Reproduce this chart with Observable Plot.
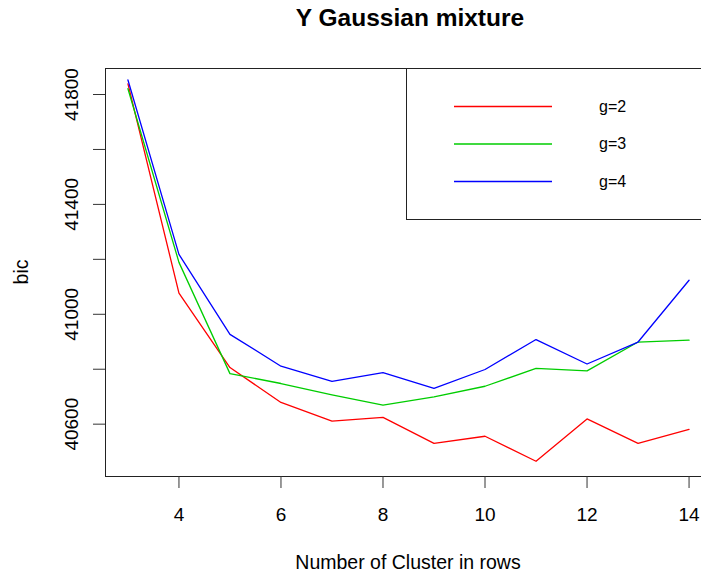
<!DOCTYPE html>
<html>
<head>
<meta charset="utf-8">
<script src="https://cdn.jsdelivr.net/npm/d3@7"></script>
<script src="https://cdn.jsdelivr.net/npm/@observablehq/plot@0.6"></script>
<style>
  html, body { margin: 0; padding: 0; background: white; overflow: hidden; }
  #wrap { position: relative; width: 701px; height: 574px; font-family: "Liberation Sans", Arial, Helvetica, sans-serif; color: #000; }
  #wrap > svg { position: absolute; left: 0; top: 0; }
  .lbl { position: absolute; white-space: nowrap; transform: translate(-50%, -50%); }
  #title { left: 410px; top: 18px; font-size: 24.5px; font-weight: bold; }
  #xlab { left: 408px; top: 562px; font-size: 19.5px; }
  #ylab { left: 21px; top: 272px; font-size: 19.5px; transform: translate(-50%, -50%) rotate(-90deg); }
  #legend { position: absolute; left: 406px; top: 68px; width: 330px; height: 152px; border: 1px solid #222; background: white; box-sizing: border-box; }
  #legend svg { position: absolute; left: 0; top: 0; }
  .ltxt { position: absolute; left: 192px; transform: translateY(-50%); font-size: 16px; white-space: nowrap; }
</style>
</head>
<body>
<div id="wrap">
  <div id="title" class="lbl">Y Gaussian mixture</div>
  <div id="xlab" class="lbl">Number of Cluster in rows</div>
  <div id="ylab" class="lbl">bic</div>
</div>
<script>
// Data
const clusters = [3, 4, 5, 6, 7, 8, 9, 10, 11, 12, 13, 14];
const g2 = [41839, 41077, 40806, 40679, 40611, 40625, 40530, 40556, 40465, 40619, 40530, 40581];
const g3 = [41821, 41189, 40784, 40748, 40707, 40669, 40699, 40738, 40803, 40794, 40899, 40906];
const g4 = [41853, 41218, 40927, 40811, 40756, 40788, 40730, 40799, 40908, 40819, 40899, 41124];
const seriesNames = ["g=2", "g=3", "g=4"];
const seriesColors = ["#ff0000", "#00cd00", "#0000ff"];
const xTicks = [4, 6, 8, 10, 12, 14];
const yTicks = [40600, 40800, 41000, 41200, 41400, 41600, 41800];
const yLabels = [40600, 41000, 41400, 41800];

const seriesValues = [g2, g3, g4];
const rows = [];
seriesValues.forEach((vals, i) => {
  vals.forEach((v, j) => rows.push({x: clusters[j], y: v, g: seriesNames[i]}));
});

const chart = Plot.plot({
  width: 701,
  height: 574,
  marginLeft: 105,
  marginRight: -10,
  marginTop: 68,
  marginBottom: 98,
  style: {fontFamily: "'Liberation Sans', Arial, Helvetica, sans-serif", fontSize: "19px", color: "#000", background: "transparent"},
  x: {domain: [2.56, 14.44]},
  y: {domain: [40409.5, 41894.7]},
  color: {domain: seriesNames, range: seriesColors},
  marks: [
    Plot.frame({stroke: "#222", strokeWidth: 1}),
    Plot.axisX({ticks: xTicks, tickSize: 12, tickPadding: 19, lineAnchor: "top", label: null, stroke: "#333", fontSize: 19}),
    Plot.axisY({ticks: yTicks, tickSize: 12, tickFormat: () => "", label: null, stroke: "#333"}),
    Plot.text(yLabels, {y: d => d, text: d => String(d), frameAnchor: "left", rotate: -90, dx: -34, textAnchor: "middle", lineAnchor: "middle", fontSize: 19}),
    Plot.line(rows, {x: "x", y: "y", z: "g", stroke: "g", strokeWidth: 1.3})
  ]
});
document.getElementById("wrap").prepend(chart);

// legend built from the series arrays
const legend = d3.select("#wrap").append("div").attr("id", "legend");
const rowTops = [37.5, 75, 112.5];
const lsvg = legend.append("svg").attr("width", 300).attr("height", 150);
seriesNames.forEach((name, i) => {
  lsvg.append("line")
    .attr("x1", 47).attr("x2", 145)
    .attr("y1", rowTops[i]).attr("y2", rowTops[i])
    .attr("stroke", seriesColors[i]).attr("stroke-width", 1.3);
  legend.append("div").attr("class", "ltxt")
    .style("top", rowTops[i] + "px")
    .text(name);
});
</script>
</body>
</html>
